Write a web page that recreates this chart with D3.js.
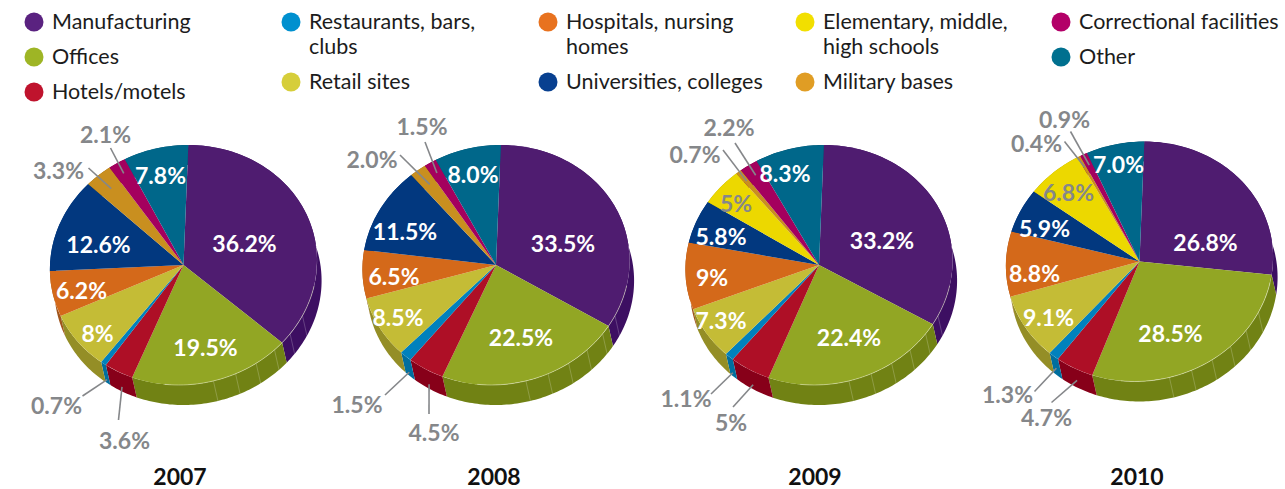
<!DOCTYPE html>
<html><head><meta charset="utf-8">
<script src="https://cdnjs.cloudflare.com/ajax/libs/d3/7.8.5/d3.min.js"></script>
<style>html,body{margin:0;padding:0;background:#fff}svg{display:block}</style>
</head><body><svg id="c" width="1285" height="489"></svg>
<script>
const categories=["Manufacturing","Offices","Hotels/motels","Restaurants, bars, clubs","Retail sites","Hospitals, nursing homes","Universities, colleges","Elementary, middle, high schools","Military bases","Correctional facilities","Other"];
const years=["2007","2008","2009","2010"];
const values2007=[36.2,19.5,3.6,0.7,8,6.2,12.6,0,3.3,2.1,7.8];
const values2008=[33.5,22.5,4.5,1.5,8.5,6.5,11.5,0,2.0,1.5,8.0];
const values2009=[33.2,22.4,5,1.1,7.3,9,5.8,5,0.7,2.2,8.3];
const values2010=[26.8,28.5,4.7,1.3,9.1,8.8,5.9,6.8,0.4,0.9,7.0];
const valueLabels2007=["36.2%","19.5%","3.6%","0.7%","8%","6.2%","12.6%","","3.3%","2.1%","7.8%"];
const valueLabels2008=["33.5%","22.5%","4.5%","1.5%","8.5%","6.5%","11.5%","","2.0%","1.5%","8.0%"];
const valueLabels2009=["33.2%","22.4%","5%","1.1%","7.3%","9%","5.8%","5%","0.7%","2.2%","8.3%"];
const valueLabels2010=["26.8%","28.5%","4.7%","1.3%","9.1%","8.8%","5.9%","6.8%","0.4%","0.9%","7.0%"];
const allValues=[values2007,values2008,values2009,values2010];
const allLabels=[valueLabels2007,valueLabels2008,valueLabels2009,valueLabels2010];

// styling and layout
const topColors=["#4f1c70","#92a624","#ae0f26","#0081bd","#c4bc36","#d4691a","#02387f","#ecd800","#c98f1f","#a4005e","#00678a"];
const sideColors=["#3d0f62","#718214","#870019","#006e9e","#948e26","#a0551c","#02387f","#b5a600","#a07018","#80004a","#00506c"];
const legendColors=["#5a2280","#9eb525","#bf132d","#0090cf","#d6ce3a","#e8721f","#084090","#f2df00","#e09d24","#b30068","#00708f"];
const legendLayout=[[34,22,["Manufacturing"]],[34,57,["Offices"]],[34,92,["Hotels/motels"]],
 [291,22,["Restaurants, bars,","clubs"]],[291,82,["Retail sites"]],
 [548,22,["Hospitals, nursing","homes"]],[548,82,["Universities, colleges"]],
 [805,22,["Elementary, middle,","high schools"]],[805,82,["Military bases"]],
 [1061,22,["Correctional facilities"]],[1061,57,["Other"]]];
const legendOrder=[0,1,2,3,4,5,6,7,8,9,10];
const pieCenters=[[183.5,265],[496,265],[819,265],[1139.5,261.5]];
const yearY=[475.5,475.5,475.5,475.5], yearX=[180,494,815,1137];
const RX=133.5,RY=120,SKEW=-0.04,WALLX=4.5,WALLY=20;
const GRAY="#85878a";
// label centres, relative to the pie centre; null = no label
const labelSpots=[
 [[61,-21],[22,83],[-59,176],[-127,141],[-86,69],[-102,26],[-85,-20],null,[-125,-94],[-78,-130],[-23,-89]],
 [[67,-21],[25,73],[-62,168],[-139,140],[-98,53],[-102,12],[-91,-33],null,[-124,-105],[-74,-138],[-23,-90]],
 [[63,-24],[30,73],[-88,158],[-133,134],[-98,56],[-107,13],[-98,-28],[-83,-61],[-124,-110],[-90,-137],[-34,-91]],
 [[66,-19],[31,72],[-93,156],[-132,133],[-91,56],[-105,12],[-95,-33],[-71,-69],[-103,-118],[-75,-142],[-21,-97]]];
const grayLabels=[2,3,7,8,9];
// leader lines: slice, radial fraction of inner end, share of wall depth, outer end relative to pie centre
const leaders=[
 [[2,1,.75,[-65,155]],[3,1,.8,[-101,131]],[8,.85,0,[-95,-97]],[9,.9,0,[-73,-117]]],
 [[2,1,.75,[-67,149]],[3,1,.8,[-111,130]],[8,.85,0,[-96,-110]],[9,.9,0,[-71,-123]]],
 [[2,1,.75,[-86,142]],[3,1,.8,[-108,129]],[8,.9,0,[-96,-115]],[9,.9,0,[-84,-122]]],
 [[2,1,.6,[-88,141]],[3,1,.6,[-105,130]],[8,.9,0,[-75,-120]],[9,.9,0,[-69,-130]]]];
const facetAngles=[115,125,135,145,155,165];
const FONT="Lato,'Open Sans',sans-serif";

const svg=d3.select("#c");
const rad=d=>d*Math.PI/180;
const project=(a,f=1,w=0)=>{
  const ux=f*Math.sin(a),uy=-f*Math.cos(a);
  return [RX*ux+SKEW*RY*uy+w*WALLX, RY*uy+w*WALLY];
};
const line=d3.line();
const arcGen=d3.arc().innerRadius(0).outerRadius(1);
const pie=d3.pie().sort(null).value(d=>d);

years.forEach((yr,yi)=>{
  const [cx,cy]=pieCenters[yi];
  const slices=pie(allValues[yi]);
  const g=svg.append("g").attr("transform",`translate(${cx},${cy})`);
  // walls
  slices.forEach((s,i)=>{
    if(s.value===0)return;
    const n=Math.max(2,Math.ceil((s.endAngle-s.startAngle)/0.02));
    const angs=d3.range(n+1).map(k=>s.startAngle+(s.endAngle-s.startAngle)*k/n);
    const pts=angs.map(a=>project(a)).concat(angs.slice().reverse().map(a=>project(a,1,1)));
    g.append("path").attr("d",line(pts)+"Z").attr("fill",sideColors[i]);
  });
  // facets on the lower right wall
  facetAngles.forEach(d=>{
    g.append("path").attr("d",line([project(rad(d)),project(rad(d),1,1)]))
     .attr("stroke","#fff").attr("stroke-opacity",.3).attr("stroke-width",.7).attr("fill","none");
  });
  // top face
  const top=g.append("g").attr("transform",`matrix(${RX},0,${SKEW*RY},${RY},0,0)`);
  top.selectAll("path").data(slices.filter(s=>s.value>0)).join("path")
     .attr("d",arcGen).attr("fill",s=>topColors[s.index]);
  // rim highlight
  const rim=d3.range(100,187,2).map(d=>project(rad(d)));
  g.append("path").attr("d",line(rim)).attr("fill","none").attr("stroke","#e8ecc8").attr("stroke-opacity",.7).attr("stroke-width",.7);
  // leaders
  leaders[yi].forEach(([i,f,w,end])=>{
    const s=slices[i],p=project((s.startAngle+s.endAngle)/2,f,w);
    g.append("path").attr("d",line([end,p])).attr("stroke",GRAY).attr("stroke-width",1.6).attr("fill","none");
  });
  // value labels
  allLabels[yi].forEach((t,i)=>{
    const spot=labelSpots[yi][i];
    if(!t||!spot)return;
    g.append("text").attr("x",spot[0]).attr("y",spot[1]-0.8).attr("text-anchor","middle").attr("dominant-baseline","central")
     .attr("font-family",FONT).attr("font-size",23).attr("font-weight",700)
     .attr("fill",grayLabels.includes(i)?GRAY:"#fff").text(t);
  });
  svg.append("text").attr("x",yearX[yi]).attr("y",yearY[yi]).attr("text-anchor","middle").attr("dominant-baseline","central")
     .attr("font-family",FONT).attr("font-size",23).attr("font-weight",700).attr("fill","#111").text(yr);
});

// legend
legendOrder.forEach(i=>{
  const [x,y,lines]=legendLayout[i];
  svg.append("circle").attr("cx",x).attr("cy",y).attr("r",9.5).attr("fill",legendColors[i]);
  lines.forEach((t,k)=>{
    svg.append("text").attr("x",x+18).attr("y",y-0.8+k*25).attr("dominant-baseline","central")
      .attr("font-family",FONT).attr("font-size",21.5).attr("fill","#1c1c1c").text(t);
  });
});
</script></body></html>
